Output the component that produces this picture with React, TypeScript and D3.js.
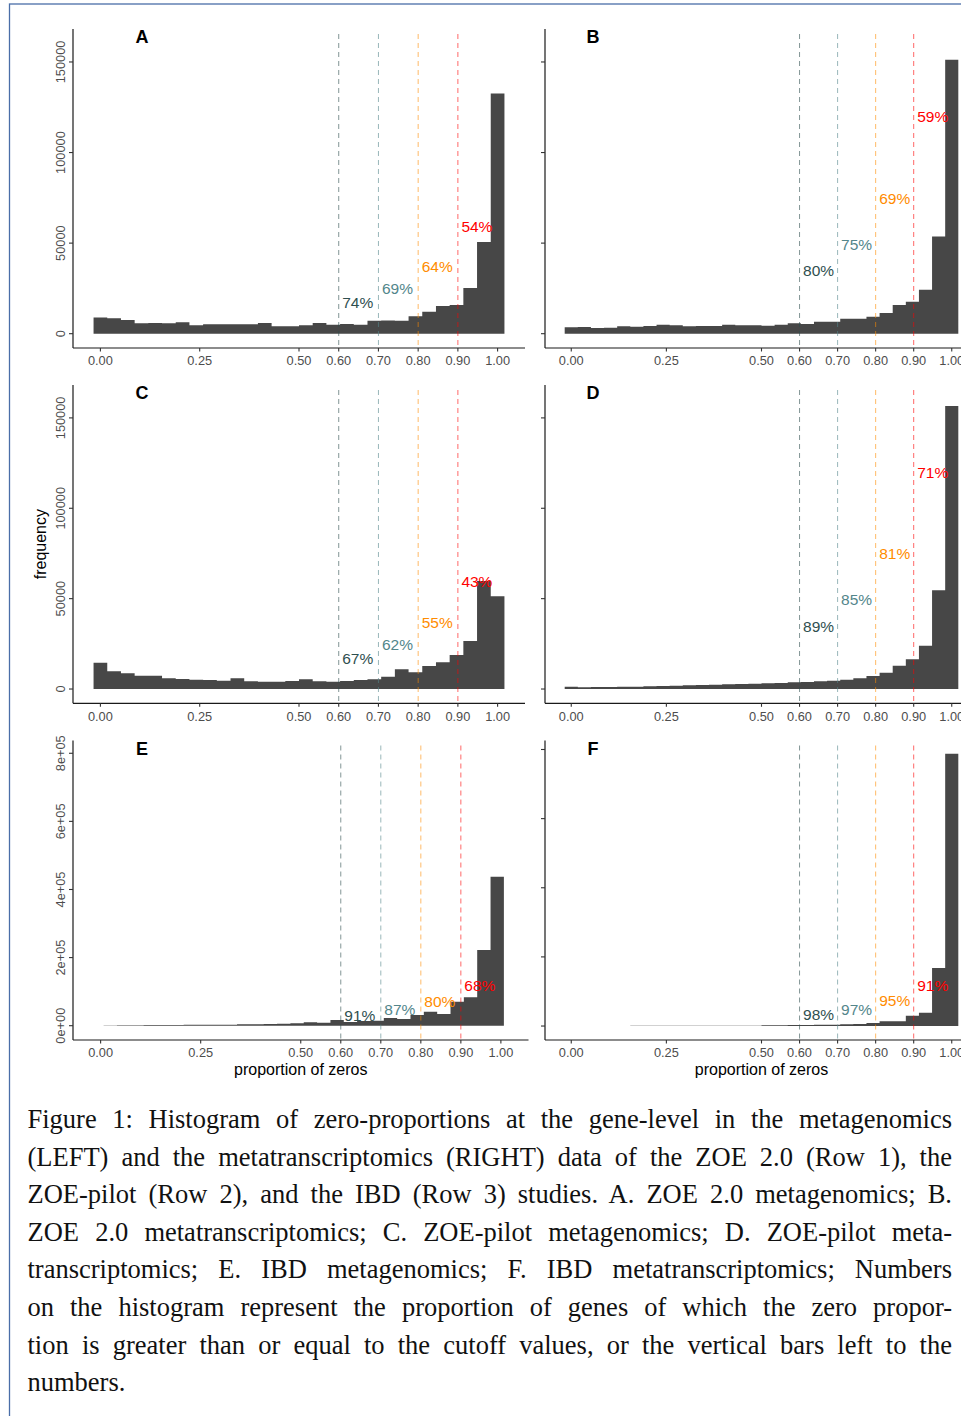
import React, { useEffect, useRef } from 'react';
import * as d3 from 'd3';

// ---- data ----
const X_TICKS = [0, 0.25, 0.5, 0.6, 0.7, 0.8, 0.9, 1.0];
const Y_TICKS_TOP = [0, 50000, 100000, 150000];
const Y_TICKS_BOTTOM = [0, 200000, 400000, 600000, 800000];
const X_LIMITS = [-0.069, 1.069];
const Y_LIMITS_TOP = [-7900, 168200];
const Y_LIMITS_E = [-42000, 837500];
const Y_LIMITS_F = [-40400, 826000];

const CUTOFFS = [0.6, 0.7, 0.8, 0.9];
const CUTOFF_COLORS = ['#2F4F4F', '#53868B', '#FF8C00', '#FF0000'];

// 30 bins of width 1/29 centred on 0..1 (E uses its own bins)
const BIN_START_STD = -0.5 / 29;
const BIN_WIDTH_STD = 1 / 29;
const BIN_START_E = 0.0075;
const BIN_WIDTH_E = 1 / 30;

const COUNTS_A = [9000, 8460, 7540, 5700, 5880, 5700, 6250, 4600, 5150, 5150, 5150, 5150, 5880, 4040, 4040,
  4600, 5880, 4960, 5330, 4960, 7170, 7350, 7170, 9560, 12130, 15260, 15800, 25180, 50550, 132540];
const COUNTS_B = [3490, 3680, 3125, 3310, 4040, 3860, 4230, 4960, 4600, 4040, 4230, 4230, 4960, 4600, 4600,
  4410, 4960, 5700, 5330, 6620, 6620, 8270, 8270, 9375, 11400, 15800, 17650, 24260, 53680, 151290];
const COUNTS_C = [14580, 9780, 8670, 7380, 7380, 5900, 5540, 5170, 4980, 4610, 5900, 4240, 4060, 4060, 4430,
  5350, 4240, 4060, 4430, 4980, 5350, 6830, 10890, 9230, 12730, 14760, 18820, 26570, 59780, 51290];
const COUNTS_D = [1290, 920, 1110, 1110, 1290, 1290, 1480, 1660, 1850, 2030, 2210, 2400, 2580, 2770, 2950,
  3140, 3320, 3690, 3870, 4240, 4610, 5170, 5900, 7200, 9040, 12920, 16420, 23990, 54610, 156600];
const COUNTS_E = [300, 980, 980, 1960, 1960, 1960, 2940, 2940, 2940, 2940, 3920, 3920, 4900, 5880, 6860,
  9800, 8820, 16670, 10780, 13730, 14710, 22550, 19610, 31370, 41200, 34310, 70600, 83500, 222600, 437250];
const COUNTS_F = [300, 300, 400, 400, 400, 500, 500, 600, 600, 700, 700, 800, 900, 900, 960,
  1930, 1930, 2890, 2890, 3860, 3860, 4820, 5780, 8670, 13490, 13490, 29880, 38550, 167710, 787470];

const LABELS_A = ['74%', '69%', '64%', '54%'];
const LABELS_B = ['80%', '75%', '69%', '59%'];
const LABELS_C = ['67%', '62%', '55%', '43%'];
const LABELS_D = ['89%', '85%', '81%', '71%'];
const LABELS_E = ['91%', '87%', '80%', '68%'];
const LABELS_F = ['98%', '97%', '95%', '91%'];
const LABEL_Y_A = [17200, 24800, 37400, 59400];
const LABEL_Y_B = [34800, 49500, 74500, 120000];
const LABEL_Y_C = [16900, 24600, 36800, 59500];
const LABEL_Y_D = [34700, 49600, 74800, 119800];
const LABEL_Y_E = [31500, 48100, 72500, 117600];
const LABEL_Y_F = [34700, 48200, 73200, 117500];

const CAPTION_LINES = [
  'Figure 1: Histogram of zero-proportions at the gene-level in the metagenomics',
  '(LEFT) and the metatranscriptomics (RIGHT) data of the ZOE 2.0 (Row 1), the',
  'ZOE-pilot (Row 2), and the IBD (Row 3) studies. A. ZOE 2.0 metagenomics; B.',
  'ZOE 2.0 metatranscriptomics; C. ZOE-pilot metagenomics; D. ZOE-pilot meta-',
  'transcriptomics; E. IBD metagenomics; F. IBD metatranscriptomics; Numbers',
  'on the histogram represent the proportion of genes of which the zero propor-',
  'tion is greater than or equal to the cutoff values, or the vertical bars left to the',
  'numbers.',
];

// ---- layout ----
const COL_LEFT = [73, 545];
const COL_RIGHT = [525, 978];
const ROW_TOP = [29, 385, 740.5];
const ROW_BOTTOM = [348, 703.3, 1040];
const LETTER_X = [142, 593];
const BAR_FILL = '#474747';
const AXIS_TEXT = '#4D4D4D';
const SANS = '"Liberation Sans", Arial, sans-serif';

const panels = [
  { id: 'A', col: 0, row: 0, counts: COUNTS_A, labels: LABELS_A, labelY: LABEL_Y_A, yLimits: Y_LIMITS_TOP, yTicks: Y_TICKS_TOP, binStart: BIN_START_STD, binWidth: BIN_WIDTH_STD },
  { id: 'B', col: 1, row: 0, counts: COUNTS_B, labels: LABELS_B, labelY: LABEL_Y_B, yLimits: Y_LIMITS_TOP, yTicks: Y_TICKS_TOP, binStart: BIN_START_STD, binWidth: BIN_WIDTH_STD },
  { id: 'C', col: 0, row: 1, counts: COUNTS_C, labels: LABELS_C, labelY: LABEL_Y_C, yLimits: Y_LIMITS_TOP, yTicks: Y_TICKS_TOP, binStart: BIN_START_STD, binWidth: BIN_WIDTH_STD },
  { id: 'D', col: 1, row: 1, counts: COUNTS_D, labels: LABELS_D, labelY: LABEL_Y_D, yLimits: Y_LIMITS_TOP, yTicks: Y_TICKS_TOP, binStart: BIN_START_STD, binWidth: BIN_WIDTH_STD },
  { id: 'E', col: 0, row: 2, counts: COUNTS_E, labels: LABELS_E, labelY: LABEL_Y_E, yLimits: Y_LIMITS_E, yTicks: Y_TICKS_BOTTOM, binStart: BIN_START_E, binWidth: BIN_WIDTH_E, right: 528.5 },
  { id: 'F', col: 1, row: 2, counts: COUNTS_F, labels: LABELS_F, labelY: LABEL_Y_F, yLimits: Y_LIMITS_F, yTicks: Y_TICKS_BOTTOM, binStart: BIN_START_STD, binWidth: BIN_WIDTH_STD },
];

const sciFormat = (v: number) => {
  const [m, e] = v.toExponential(0).split('e');
  return `${m}e${e[0]}${e.slice(1).padStart(2, '0')}`;
};

function Panel({ p }: { p: any }) {
  const left = COL_LEFT[p.col];
  const right = p.right ?? COL_RIGHT[p.col];
  const top = ROW_TOP[p.row];
  const bottom = ROW_BOTTOM[p.row];
  const x = d3.scaleLinear().domain(X_LIMITS).range([left, right]);
  const y = d3.scaleLinear().domain(p.yLimits).range([bottom, top]);

  // histogram as one stepped area
  const steps = d3.range(p.counts.length + 1).map((i) => ({
    x0: p.binStart + i * p.binWidth,
    v: p.counts[Math.min(i, p.counts.length - 1)],
  }));
  const area = d3.area<any>()
    .x((d) => x(d.x0))
    .y0(y(0))
    .y1((d) => y(d.v))
    .curve(d3.curveStepAfter);

  const isBottom = p.row === 2;
  const yFmt = isBottom ? sciFormat : (v: number) => String(v);

  return (
    <g>
      <path d={area(steps) || ''} fill={BAR_FILL} />

      {CUTOFFS.map((c, i) => (
        <line key={`v${c}`} x1={x(c)} x2={x(c)} y1={y(p.yLimits[1]) + 5} y2={y(p.yLimits[0])}
          stroke={CUTOFF_COLORS[i]} strokeOpacity={0.6} strokeWidth={1} strokeDasharray="5,4" />
      ))}
      {CUTOFFS.map((c, i) => (
        <text key={`l${c}`} x={x(c)} dx={3.5} y={y(p.labelY[i])} dy="0.36em"
          fill={CUTOFF_COLORS[i]} fontSize={15.5} fontFamily={SANS}>{p.labels[i]}</text>
      ))}

      {/* axes */}
      <line x1={left} x2={left} y1={top} y2={bottom} stroke="#1a1a1a" strokeWidth={1.2} />
      <line x1={left} x2={right} y1={bottom} y2={bottom} stroke="#1a1a1a" strokeWidth={1.2} />
      {p.yTicks.map((t: number) => (
        <g key={`yt${t}`}>
          <line x1={left - 4} x2={left} y1={y(t)} y2={y(t)} stroke="#333" strokeWidth={1.1} />
          {p.col === 0 && (
            <text transform={`translate(${left - 8.5},${y(t)}) rotate(-90)`} textAnchor="middle"
              fill={AXIS_TEXT} fontSize={12.8} fontFamily={SANS}>{yFmt(t)}</text>
          )}
        </g>
      ))}
      {X_TICKS.map((t) => (
        <g key={`xt${t}`}>
          <line x1={x(t)} x2={x(t)} y1={bottom} y2={bottom + 3.5} stroke="#333" strokeWidth={1.1} />
          <text x={x(t)} y={bottom + 17.3} textAnchor="middle" fill={AXIS_TEXT} fontSize={12.8}
            fontFamily={SANS}>{d3.format('.2f')(t)}</text>
        </g>
      ))}

      <text x={LETTER_X[p.col]} y={top + 14.3} textAnchor="middle" fontWeight="bold" fontSize={18}
        fontFamily={SANS} fill="#000">{p.id}</text>

      {isBottom && (
        <text x={(left + right) / 2} y={bottom + 35} textAnchor="middle" fontSize={16}
          fontFamily={SANS} fill="#000">proportion of zeros</text>
      )}
      {p.id === 'C' && (
        <text transform={`translate(${46},${(top + bottom) / 2}) rotate(-90)`} textAnchor="middle"
          fontSize={16} fontFamily={SANS} fill="#000">frequency</text>
      )}
    </g>
  );
}

function Caption() {
  const ref = useRef<SVGGElement>(null);
  const textLeft = 27.5;
  const textRight = 952;
  const baseline0 = 1128;
  const lineStep = 37.6;

  useEffect(() => {
    if (!ref.current) return;
    d3.select(ref.current).selectAll<SVGTextElement, unknown>('text.just').each(function () {
      const w = this.getComputedTextLength();
      const n = (this.textContent || '').split(' ').length - 1;
      if (n > 0) d3.select(this).attr('word-spacing', (textRight - textLeft - w) / n);
    });
  }, []);

  return (
    <g ref={ref}>
      {CAPTION_LINES.map((line, i) => (
        <text key={i} className={i < CAPTION_LINES.length - 1 ? 'just' : ''} x={textLeft}
          y={baseline0 + i * lineStep} fontSize={26.5} fontFamily='"Liberation Serif", "Times New Roman", serif'
          fill="#111">{line}</text>
      ))}
    </g>
  );
}

export default function App() {
  useEffect(() => {
    document.body.style.margin = '0';
  }, []);
  return (
    <svg width={961} height={1416} style={{ display: 'block', background: '#fff' }}>
      <rect x={9.5} y={4} width={1000} height={1500} fill="none" stroke="#4a6ea8" strokeWidth={1.3} />
      {panels.map((p) => <Panel key={p.id} p={p} />)}
      <Caption />
    </svg>
  );
}
